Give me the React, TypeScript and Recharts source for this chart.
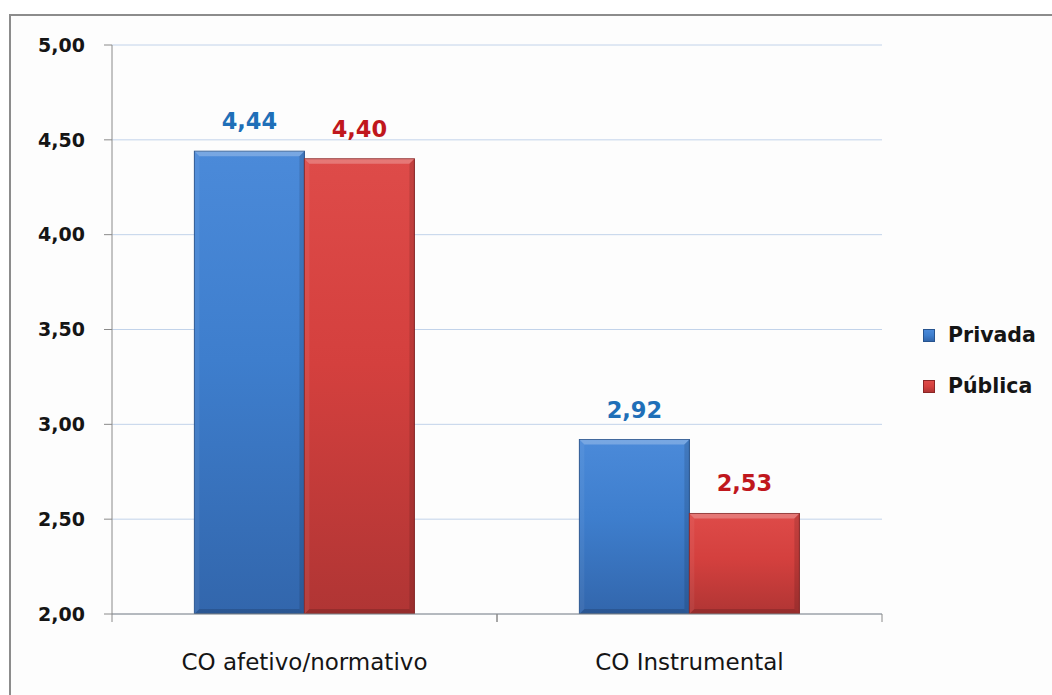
import React from "react";
import { BarChart, Bar, XAxis, YAxis, CartesianGrid, LabelList } from "recharts";

const categories = ["CO afetivo/normativo", "CO Instrumental"];
const privada = [4.44, 2.92];
const publica = [4.4, 2.53];
const yTicks = [2, 2.5, 3, 3.5, 4, 4.5, 5];
const seriesNames = ["Privada", "Pública"];

const data = categories.map((name, i) => ({ name, privada: privada[i], publica: publica[i] }));

const FONT = "'DejaVu Sans', sans-serif";
const fmt = (v: number) => v.toFixed(2).replace(".", ",");

const palettes = {
  blue: { top: "#4b8ad9", mid: "#3e7ecd", bottom: "#3266ac", edge: "#27548f", label: "#1f6fb8" },
  red: { top: "#de4b49", mid: "#d4403e", bottom: "#b03534", edge: "#8a2626", label: "#c0171d" },
};

// Bevelled bar, filled with a vertical gradient
const bevelBar = (key: "blue" | "red") => (props: any) => {
  const { x, y, width, height } = props;
  if (!height || height <= 0) return <g />;
  const b = 5;
  const p = palettes[key];
  return (
    <g>
      <rect x={x} y={y} width={width} height={height} fill={`url(#grad-${key})`} stroke={p.edge} strokeWidth={1} />
      <polygon points={`${x},${y} ${x + width},${y} ${x + width - b},${y + b} ${x + b},${y + b}`} fill="#ffffff" opacity={0.25} />
      <polygon points={`${x},${y} ${x + b},${y + b} ${x + b},${y + height - b} ${x},${y + height}`} fill="#ffffff" opacity={0.06} />
      <polygon points={`${x + width},${y} ${x + width - b},${y + b} ${x + width - b},${y + height - b} ${x + width},${y + height}`} fill="#000000" opacity={0.12} />
      <polygon points={`${x},${y + height} ${x + b},${y + height - b} ${x + width - b},${y + height - b} ${x + width},${y + height}`} fill="#000000" opacity={0.15} />
    </g>
  );
};

const valueLabel = (color: string) => (props: any) => {
  const { x, y, width, value } = props;
  return (
    <text x={x + width / 2} y={y - 22} textAnchor="middle" fill={color} fontFamily={FONT} fontWeight="bold" fontSize={22.5}>
      {fmt(Number(value))}
    </text>
  );
};

const CategoryTick = (props: any) => {
  const { x, y, payload } = props;
  const half = payload && payload.offset ? payload.offset : 192.5;
  return (
    <g>
      <line x1={x - half} y1={y} x2={x - half} y2={y + 8} stroke="#8a8a8a" strokeWidth={1} />
      <line x1={x + half} y1={y} x2={x + half} y2={y + 8} stroke="#8a8a8a" strokeWidth={1} />
      <text x={x} y={y + 56} textAnchor="middle" fill="#151515" fontFamily={FONT} fontSize={23}>
        {payload.value}
      </text>
    </g>
  );
};

const LegendSwatch = ({ tone }: { tone: "blue" | "red" }) => {
  const p = palettes[tone];
  return (
    <span
      style={{
        display: "inline-block",
        width: 12,
        height: 13,
        background: `linear-gradient(to bottom, ${p.top}, ${p.mid} 50%, ${p.bottom})`,
        border: `1px solid ${p.edge}`,
        boxSizing: "border-box",
        marginRight: 13,
      }}
    />
  );
};

export default function App() {
  return (
    <div style={{ position: "absolute", left: 0, top: 0, width: 1052, height: 695, background: "#ffffff", overflow: "hidden" }}>
      <div
        style={{
          position: "absolute",
          left: 9,
          top: 14,
          width: 1060,
          height: 700,
          border: "2px solid #8c8c8c",
          background: "#fdfdfd",
        }}
      />
      <div style={{ position: "absolute", left: 0, top: 0 }}>
        <BarChart
          width={1052}
          height={695}
          data={data}
          margin={{ top: 45, right: 170, bottom: 21, left: 12 }}
          barCategoryGap="21.4%"
          barGap={0}
        >
          <defs>
            {(["blue", "red"] as const).map((k) => (
              <linearGradient key={k} id={`grad-${k}`} x1="0" y1="0" x2="0" y2="1">
                <stop offset="0%" stopColor={palettes[k].top} />
                <stop offset="45%" stopColor={palettes[k].mid} />
                <stop offset="100%" stopColor={palettes[k].bottom} />
              </linearGradient>
            ))}
          </defs>
          <CartesianGrid vertical={false} stroke="#c2d3ea" strokeWidth={1} />
          <XAxis
            dataKey="name"
            height={60}
            tickLine={false}
            tickSize={0}
            tickMargin={0}
            axisLine={{ stroke: "#8a8a8a", strokeWidth: 1 }}
            tick={<CategoryTick />}
            interval={0}
          />
          <YAxis
            width={100}
            domain={[2, 5]}
            ticks={yTicks}
            allowDataOverflow
            tickFormatter={fmt}
            tickSize={8}
            tickMargin={19}
            tickLine={{ stroke: "#8a8a8a" }}
            axisLine={{ stroke: "#8a8a8a", strokeWidth: 1 }}
            tick={{ fill: "#151515", fontFamily: FONT, fontWeight: "bold", fontSize: 19 }}
          />
          <Bar dataKey="privada" name={seriesNames[0]} isAnimationActive={false} shape={bevelBar("blue")}>
            <LabelList dataKey="privada" content={valueLabel(palettes.blue.label)} />
          </Bar>
          <Bar dataKey="publica" name={seriesNames[1]} isAnimationActive={false} shape={bevelBar("red")}>
            <LabelList dataKey="publica" content={valueLabel(palettes.red.label)} />
          </Bar>
        </BarChart>
      </div>
      <div style={{ position: "absolute", left: 923, top: 321, fontFamily: FONT, fontWeight: "bold", fontSize: 20.5, color: "#151515", lineHeight: "28px" }}>
        <div style={{ display: "flex", alignItems: "center", height: 28 }}>
          <LegendSwatch tone="blue" />
          {seriesNames[0]}
        </div>
        <div style={{ display: "flex", alignItems: "center", height: 28, marginTop: 23 }}>
          <LegendSwatch tone="red" />
          {seriesNames[1]}
        </div>
      </div>
    </div>
  );
}
